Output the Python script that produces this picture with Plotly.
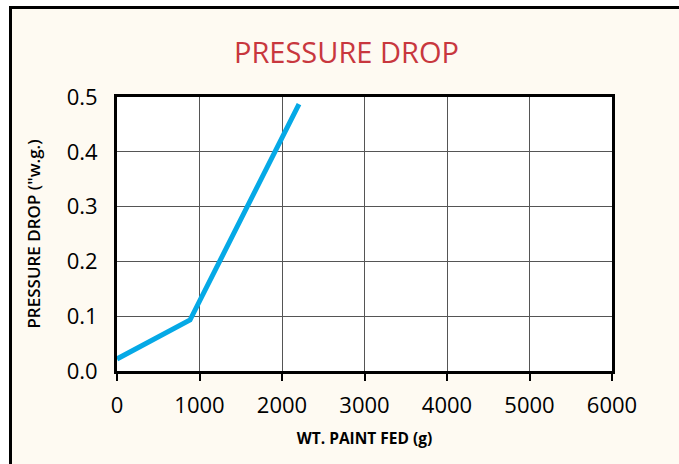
import plotly.graph_objects as go

# Data
wt_paint_fed = [0, 885, 2206]
pressure_drop = [0.022, 0.093, 0.487]

x_ticks = [0, 1000, 2000, 3000, 4000, 5000, 6000]
y_ticks = [0.0, 0.1, 0.2, 0.3, 0.4, 0.5]
y_tick_labels = ["0.0", "0.1", "0.2", "0.3", "0.4", "0.5"]

W, H = 679, 464
ML, MR, MT, MB = 117, 67, 97, 93
PW = W - ML - MR
PH = H - MT - MB


def px(x):
    return (x - ML) / PW


def py(y):
    return (H - MB - y) / PH


CREAM = "#fefaf2"

fig = go.Figure()
fig.add_trace(go.Scatter(
    x=wt_paint_fed, y=pressure_drop, mode="lines",
    line=dict(color="#05a9e6", width=5),
    hoverinfo="skip", showlegend=False,
))

font_family = "Open Sans, Noto Sans, sans-serif"

fig.update_layout(
    width=W, height=H,
    margin=dict(l=ML, r=MR, t=MT, b=MB, pad=0),
    paper_bgcolor=CREAM,
    plot_bgcolor="white",
    font=dict(family=font_family, color="black"),
    xaxis=dict(
        range=[0, 6000], tickvals=x_ticks,
        showgrid=True, gridcolor="#555555", gridwidth=1,
        showline=True, linecolor="black", linewidth=3, mirror=True,
        ticks="outside", ticklen=7, tickwidth=2, tickcolor="black",
        tickfont=dict(size=22, family=font_family),
        ticklabelstandoff=6,
        zeroline=False,
        title=dict(text="WT. PAINT FED (g)", font=dict(size=15.5, family=font_family, weight=700), standoff=15),
    ),
    yaxis=dict(
        range=[0, 0.5], tickvals=y_ticks, ticktext=y_tick_labels,
        showgrid=True, gridcolor="#555555", gridwidth=1,
        showline=True, linecolor="black", linewidth=3, mirror=True,
        ticks="", zeroline=False,
        tickfont=dict(size=22, family=font_family),
        ticklabelstandoff=12,
        title=dict(text="PRESSURE DROP (\"w.g.)", font=dict(size=17, family=font_family, weight=600), standoff=22),
    ),
    annotations=[dict(
        text="PRESSURE DROP", x=px(346), y=py(51), xref="paper", yref="paper",
        xanchor="center", yanchor="middle", showarrow=False,
        font=dict(size=29, color="#c8373e", family=font_family),
    )],
    shapes=[
        # white region outside the frame
        dict(type="rect", xref="paper", yref="paper", layer="below",
             x0=px(-5), x1=px(9), y0=py(-5), y1=py(H + 5),
             fillcolor="white", line=dict(width=0)),
        dict(type="rect", xref="paper", yref="paper", layer="below",
             x0=px(-5), x1=px(W + 5), y0=py(-5), y1=py(6),
             fillcolor="white", line=dict(width=0)),
        # black frame lines
        dict(type="line", xref="paper", yref="paper", layer="below",
             x0=px(10.5), x1=px(10.5), y0=py(6), y1=py(H + 5),
             line=dict(color="black", width=3)),
        dict(type="line", xref="paper", yref="paper", layer="below",
             x0=px(9), x1=px(W + 5), y0=py(7.5), y1=py(7.5),
             line=dict(color="black", width=3)),
    ],
)

fig.write_html(
    "out.html",
    config={"displayModeBar": False},
    post_script="document.body.style.margin='0';document.body.style.overflow='hidden';",
)
